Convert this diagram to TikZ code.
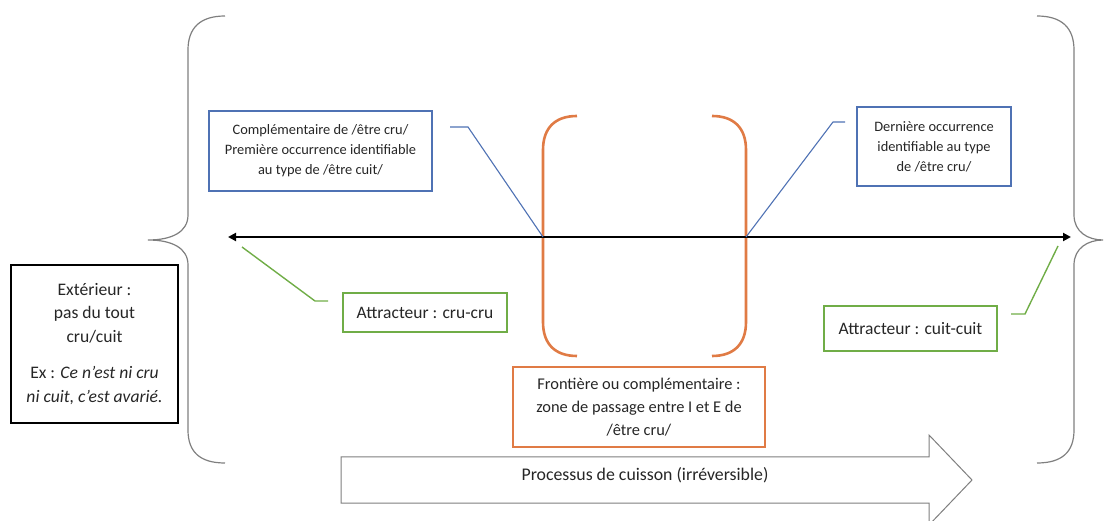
\documentclass[tikz,border=0pt]{standalone}
\usepackage{fontspec}
\setmainfont{Carlito}
\usetikzlibrary{arrows.meta}
\definecolor{oblue}{HTML}{4F72B4}
\definecolor{ogreen}{HTML}{70AD47}
\definecolor{oorange}{HTML}{E07B45}
\definecolor{ogray}{HTML}{7F7F7F}
\definecolor{otext}{HTML}{262626}
\begin{document}
\begin{tikzpicture}[x=1pt,y=-1pt,
  box/.style={draw, inner sep=0pt, align=center, text=otext},
  bluebox/.style={box, draw=oblue, line width=1.4pt, font=\fontsize{14.4}{20}\selectfont},
  greenbox/.style={box, draw=ogreen, line width=1.4pt, font=\fontsize{17.5}{20}\selectfont},
  orangebox/.style={box, draw=oorange, line width=2.4pt, font=\fontsize{16.4}{23}\selectfont},
  blackbox/.style={box, draw=black, line width=1.8pt, font=\fontsize{17.6}{23.5}\selectfont},
  bluel/.style={draw=oblue, line width=1.1pt},
  greenl/.style={draw=ogreen, line width=1.4pt},
  bracket/.style={draw=oorange, line width=2.6pt},
  brace/.style={draw=ogray, line width=1.2pt},
  axis/.style={draw=black, line width=2.4pt, {Triangle[length=8pt,width=8pt]}-{Triangle[length=8pt,width=8pt]}},
  bigarrow/.style={draw=ogray, line width=1pt, fill=white}
]
\useasboundingbox (0,0) rectangle (1104,521);

% braces
\draw[brace] (225,16) .. controls (200,16) and (188,28) .. (188,50) -- (188,215)
  .. controls (188,232) and (172,240) .. (148,240)
  .. controls (172,240) and (188,248) .. (188,265) -- (188,430)
  .. controls (188,452) and (200,463) .. (225,463);
\draw[brace] (1037,16) .. controls (1062,16) and (1074,28) .. (1074,50) -- (1074,215)
  .. controls (1074,232) and (1088,240) .. (1103,240)
  .. controls (1088,240) and (1074,248) .. (1074,265) -- (1074,430)
  .. controls (1074,452) and (1062,463) .. (1037,463);

% big process arrow
\draw[bigarrow] (341,457) -- (929,457) -- (929,435) -- (972,480) -- (929,525) -- (929,503) -- (341,503) -- cycle;
\node[text=otext, font=\fontsize{17.8}{20}\selectfont] (proc) at (645,475) {Processus de cuisson (irréversible)};

% orange brackets
\draw[bracket] (577,116) .. controls (555,116) and (543,128) .. (543,150) -- (543,322)
  .. controls (543,344) and (555,356) .. (577,356);
\draw[bracket] (712,116) .. controls (734,116) and (746,128) .. (746,150) -- (746,322)
  .. controls (746,344) and (734,356) .. (712,356);

% axis
\coordinate (axL) at (228,237);
\coordinate (axR) at (1071,237);
\coordinate (bL) at (543,237);
\coordinate (bR) at (746,237);
\draw[axis] (axL) -- (axR);

% boxes
\node[bluebox, minimum width=223pt, minimum height=80pt] (c1) at (320.5,151)
  {Complémentaire de /être cru/\\Première occurrence identifiable\\au type de /être cuit/};
\node[bluebox, minimum width=154pt, minimum height=79pt] (c2) at (934,146.5)
  {Dernière occurrence\\identifiable au type\\de /être cru/};
\node[greenbox, minimum width=164pt, minimum height=39pt] (g1) at (425,312.5)
  {Attracteur : cru-cru};
\node[greenbox, minimum width=173pt, minimum height=45pt] (g2) at (910.5,328.5)
  {Attracteur : cuit-cuit};
\node[orangebox, minimum width=252pt, minimum height=80pt] (fr) at (639,407)
  {Frontière ou complémentaire :\\zone de passage entre I et E de\\/être cru/};
\node[blackbox, minimum width=167pt, minimum height=158pt] (ext) at (94.5,344)
  {Extérieur :\\pas du tout\\cru/cuit\\[13pt]Ex : \textit{Ce n’est ni cru}\\\textit{ni cuit, c’est avarié.}};

% leader lines
\coordinate (b1s) at (450,127);
\coordinate (b1c) at (468,127);
\draw[bluel] (b1s) -- (b1c) -- (bL);
\coordinate (b2s) at (845,122);
\coordinate (b2c) at (833,122);
\draw[bluel] (b2s) -- (b2c) -- (bR);
\coordinate (g1s) at (328,301);
\coordinate (g1c) at (315,301);
\coordinate (g1e) at (242,247);
\draw[greenl] (g1s) -- (g1c) -- (g1e);
\coordinate (g2s) at (1011,314);
\coordinate (g2c) at (1025,314);
\coordinate (g2e) at (1058,246);
\draw[greenl] (g2s) -- (g2c) -- (g2e);
\end{tikzpicture}
\end{document}
